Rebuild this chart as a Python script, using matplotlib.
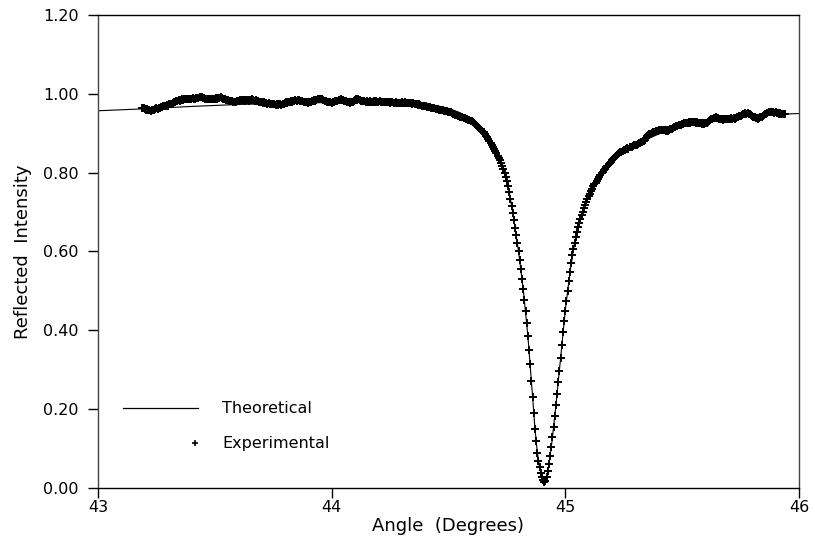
#!/usr/bin/env python3
# Reflected intensity vs angle: theoretical curve against measured points.

import numpy
import matplotlib as mpl
mpl.use("Agg")
import matplotlib.pyplot as plt
from matplotlib.ticker import FormatStrFormatter

mpl.rcParams.update({
	"font.family": "DejaVu Sans",
	"axes.labelsize": 13,
	"xtick.labelsize": 11.5,
	"ytick.labelsize": 11.5,
})

# Theoretical curve (angle in degrees, reflected intensity).
theory_x = [43.00, 43.20, 43.40, 43.60, 43.80, 44.00, 44.20, 44.30, 44.40, 44.45,
	44.50, 44.55, 44.60, 44.65, 44.70, 44.72, 44.74, 44.76, 44.78, 44.80,
	44.82, 44.84, 44.86, 44.87, 44.88, 44.89, 44.90, 44.91, 44.92, 44.93,
	44.94, 44.95, 44.96, 44.98, 45.00, 45.02, 45.04, 45.06, 45.08, 45.10,
	45.15, 45.20, 45.30, 45.40, 45.50, 45.60, 45.70, 45.80, 45.90, 46.00]
theory_y = [0.957, 0.962, 0.968, 0.973, 0.976, 0.978, 0.978, 0.977, 0.974, 0.970,
	0.963, 0.952, 0.932, 0.903, 0.856, 0.831, 0.800, 0.752, 0.680, 0.600,
	0.505, 0.385, 0.232, 0.152, 0.092, 0.052, 0.027, 0.015, 0.027, 0.058,
	0.103, 0.155, 0.210, 0.330, 0.450, 0.548, 0.622, 0.672, 0.710, 0.740,
	0.795, 0.832, 0.872, 0.898, 0.918, 0.930, 0.938, 0.944, 0.948, 0.950]

# Experimental scan: first angle, step, and one reading per step.
exp_start = 43.19
exp_step = 0.005
exp_y = [
	0.965, 0.963, 0.962, 0.960, 0.961, 0.958, 0.960, 0.957, 0.959, 0.958,
	0.960, 0.961, 0.963, 0.962, 0.965, 0.964, 0.967, 0.966, 0.968, 0.969,
	0.968, 0.971, 0.970, 0.973, 0.975, 0.974, 0.977, 0.979, 0.978, 0.981,
	0.982, 0.984, 0.983, 0.985, 0.986, 0.985, 0.987, 0.986, 0.988, 0.987,
	0.986, 0.988, 0.987, 0.989, 0.988, 0.987, 0.989, 0.990, 0.989, 0.991,
	0.993, 0.991, 0.989, 0.990, 0.988, 0.987, 0.988, 0.986, 0.987, 0.986,
	0.987, 0.988, 0.987, 0.989, 0.988, 0.990, 0.989, 0.991, 0.989, 0.988,
	0.987, 0.986, 0.984, 0.985, 0.983, 0.982, 0.983, 0.981, 0.980, 0.979,
	0.980, 0.981, 0.982, 0.983, 0.985, 0.984, 0.985, 0.984, 0.983, 0.985,
	0.984, 0.983, 0.985, 0.984, 0.986, 0.985, 0.983, 0.984, 0.982, 0.981,
	0.980, 0.979, 0.978, 0.977, 0.978, 0.976, 0.977, 0.975, 0.976, 0.975,
	0.974, 0.975, 0.973, 0.974, 0.972, 0.973, 0.972, 0.974, 0.973, 0.972,
	0.973, 0.975, 0.976, 0.978, 0.977, 0.979, 0.980, 0.981, 0.980, 0.982,
	0.983, 0.984, 0.983, 0.985, 0.984, 0.982, 0.981, 0.982, 0.980, 0.979,
	0.978, 0.979, 0.977, 0.978, 0.979, 0.981, 0.982, 0.984, 0.983, 0.985,
	0.986, 0.987, 0.988, 0.986, 0.987, 0.985, 0.983, 0.982, 0.980, 0.979,
	0.978, 0.979, 0.977, 0.978, 0.980, 0.982, 0.981, 0.983, 0.985, 0.984,
	0.986, 0.985, 0.984, 0.982, 0.981, 0.980, 0.978, 0.979, 0.977, 0.978,
	0.980, 0.982, 0.984, 0.986, 0.985, 0.986, 0.984, 0.983, 0.982, 0.981,
	0.982, 0.980, 0.981, 0.979, 0.980, 0.981, 0.979, 0.980, 0.981, 0.980,
	0.981, 0.979, 0.980, 0.981, 0.979, 0.980, 0.978, 0.980, 0.979, 0.978,
	0.979, 0.978, 0.977, 0.979, 0.978, 0.976, 0.977, 0.978, 0.976, 0.977,
	0.976, 0.977, 0.978, 0.977, 0.976, 0.978, 0.977, 0.976, 0.977, 0.976,
	0.976, 0.975, 0.976, 0.974, 0.973, 0.974, 0.972, 0.973, 0.971, 0.970,
	0.970, 0.969, 0.968, 0.969, 0.967, 0.966, 0.967, 0.965, 0.964, 0.963,
	0.963, 0.962, 0.961, 0.962, 0.960, 0.959, 0.960, 0.958, 0.957, 0.957,
	0.956, 0.956, 0.955, 0.954, 0.953, 0.952, 0.950, 0.949, 0.947, 0.946,
	0.945, 0.944, 0.942, 0.941, 0.940, 0.939, 0.938, 0.936, 0.935, 0.934,
	0.933, 0.932, 0.930, 0.928, 0.926, 0.923, 0.920, 0.917, 0.914, 0.911,
	0.908, 0.905, 0.902, 0.898, 0.894, 0.890, 0.885, 0.880, 0.875, 0.870,
	0.865, 0.860, 0.855, 0.849, 0.843, 0.837, 0.831, 0.824, 0.817, 0.809,
	0.800, 0.790, 0.778, 0.765, 0.751, 0.734, 0.716, 0.698, 0.679, 0.660,
	0.642, 0.622, 0.602, 0.579, 0.555, 0.530, 0.505, 0.478, 0.450, 0.418,
	0.385, 0.350, 0.315, 0.272, 0.230, 0.190, 0.150, 0.118, 0.090, 0.068,
	0.052, 0.038, 0.028, 0.020, 0.016, 0.018, 0.028, 0.042, 0.060, 0.082,
	0.105, 0.130, 0.155, 0.182, 0.210, 0.238, 0.268, 0.298, 0.330, 0.362,
	0.395, 0.423, 0.450, 0.475, 0.500, 0.525, 0.548, 0.570, 0.590, 0.607,
	0.622, 0.636, 0.650, 0.661, 0.672, 0.682, 0.692, 0.701, 0.710, 0.718,
	0.726, 0.733, 0.740, 0.747, 0.753, 0.759, 0.765, 0.770, 0.775, 0.780,
	0.785, 0.789, 0.794, 0.798, 0.802, 0.806, 0.810, 0.814, 0.817, 0.821,
	0.825, 0.828, 0.832, 0.835, 0.838, 0.841, 0.845, 0.847, 0.850, 0.852,
	0.853, 0.855, 0.858, 0.857, 0.860, 0.862, 0.861, 0.864, 0.866, 0.865,
	0.867, 0.869, 0.871, 0.870, 0.873, 0.875, 0.876, 0.878, 0.877, 0.880,
	0.883, 0.887, 0.892, 0.896, 0.898, 0.899, 0.900, 0.902, 0.903, 0.904,
	0.905, 0.906, 0.907, 0.908, 0.907, 0.909, 0.908, 0.907, 0.906, 0.907,
	0.906, 0.908, 0.910, 0.911, 0.913, 0.915, 0.916, 0.918, 0.919, 0.920,
	0.921, 0.922, 0.923, 0.924, 0.925, 0.926, 0.925, 0.927, 0.928, 0.927,
	0.929, 0.928, 0.929, 0.928, 0.927, 0.928, 0.926, 0.927, 0.925, 0.924,
	0.925, 0.924, 0.926, 0.927, 0.929, 0.931, 0.933, 0.935, 0.936, 0.938,
	0.939, 0.940, 0.939, 0.938, 0.936, 0.935, 0.936, 0.934, 0.935, 0.936,
	0.935, 0.936, 0.937, 0.936, 0.938, 0.937, 0.938, 0.937, 0.939, 0.940,
	0.941, 0.943, 0.945, 0.947, 0.949, 0.950, 0.951, 0.950, 0.951, 0.949,
	0.948, 0.946, 0.944, 0.942, 0.940, 0.939, 0.938, 0.937, 0.938, 0.940,
	0.942, 0.944, 0.946, 0.948, 0.950, 0.951, 0.953, 0.954, 0.953, 0.954,
	0.953, 0.952, 0.953, 0.951, 0.952, 0.950, 0.951, 0.950, 0.949, 0.949,
	0.949,
]

x_ticks = [43, 44, 45, 46]
y_ticks = [0.00, 0.20, 0.40, 0.60, 0.80, 1.00, 1.20]


def main():
	exp_x = exp_start + exp_step * numpy.arange(len(exp_y))

	fig = plt.figure(figsize=(8.15, 5.45), dpi=100)
	ax = fig.add_axes([0.1202, 0.1046, 0.8601, 0.8679])

	ax.plot(theory_x, theory_y, color="black", lw=0.8, zorder=2)
	ax.plot(exp_x, exp_y, linestyle="None", marker="+", color="black",
		markersize=6, markeredgewidth=1.4, zorder=3)

	ax.set_xlim(43, 46)
	ax.set_ylim(0, 1.2)
	ax.set_xticks(x_ticks)
	ax.set_yticks(y_ticks)
	ax.yaxis.set_major_formatter(FormatStrFormatter("%.2f"))
	ax.tick_params(direction="out", length=7, width=1.0)
	ax.tick_params(axis="y", pad=7)
	ax.tick_params(axis="x", pad=2)
	for side in ["left", "right", "top", "bottom"]:
		ax.spines[side].set_linewidth(1.0)
	ax.spines["left"].set_color("#444444")
	ax.spines["right"].set_color("#444444")

	ax.set_xlabel("Angle  (Degrees)", labelpad=1)
	ax.set_ylabel("Reflected  Intensity", labelpad=8)

	# hand drawn key, as in the original figure
	ax.plot([0.036, 0.143], [0.169, 0.169], transform=ax.transAxes,
		color="black", lw=0.9)
	ax.text(0.177, 0.169, "Theoretical", transform=ax.transAxes,
		va="center", ha="left", fontsize=11.5)
	ax.plot([0.138], [0.095], transform=ax.transAxes, linestyle="None",
		marker="+", color="black", markersize=5, markeredgewidth=1.2)
	ax.text(0.177, 0.095, "Experimental", transform=ax.transAxes,
		va="center", ha="left", fontsize=11.5)

	fig.savefig("out.png", dpi=100)


if __name__ == "__main__":
	main()
